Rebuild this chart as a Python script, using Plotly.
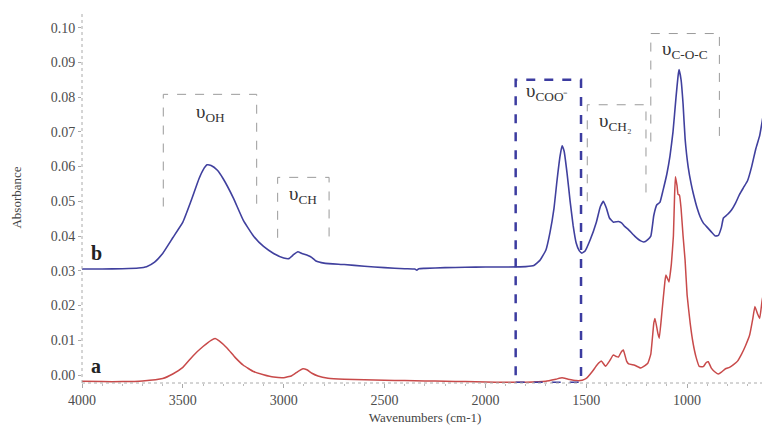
import plotly.graph_objects as go

# ---- data ----
wn_b = [4000, 3900, 3800, 3720, 3680, 3640, 3600, 3550, 3500, 3460, 3420, 3400, 3380, 3360, 3330,
        3300, 3250, 3200, 3150, 3100, 3050, 3000, 2975, 2950, 2930, 2910, 2880, 2860, 2840, 2800,
        2700, 2600, 2500, 2400, 2350, 2340, 2330, 2300, 2200, 2100, 2000, 1900, 1800, 1760, 1730,
        1700, 1680, 1660, 1645, 1630, 1620, 1610, 1595, 1580, 1565, 1550, 1535, 1522, 1505, 1480,
        1450, 1430, 1415, 1400, 1385, 1365, 1340, 1325, 1310, 1290, 1260, 1230, 1215, 1195, 1180,
        1165, 1150, 1135, 1120, 1100, 1085, 1070, 1055, 1045, 1040, 1030, 1020, 1010, 995, 980,
        970, 950, 935, 920, 900, 880, 860, 845, 830, 820, 800, 780, 760, 740, 720, 700, 680, 660,
        640, 625, 610, 600]
abs_b = [0.0305, 0.0305, 0.0306, 0.0308, 0.0312, 0.0325, 0.0350, 0.0395, 0.0440, 0.0500, 0.0565,
         0.0590, 0.0605, 0.0603, 0.0590, 0.0565, 0.0510, 0.0445, 0.0400, 0.0370, 0.0350, 0.0337,
         0.0335, 0.0347, 0.0355, 0.0350, 0.0344, 0.0338, 0.0328, 0.0322, 0.0318, 0.0313, 0.0309,
         0.0306, 0.0305, 0.0302, 0.0306, 0.0307, 0.0309, 0.0310, 0.0311, 0.0311, 0.0312, 0.0315,
         0.0330, 0.0360, 0.0410, 0.0480, 0.0560, 0.0630, 0.0660, 0.0645, 0.0580, 0.0500, 0.0430,
         0.0380, 0.0358, 0.0351, 0.0358, 0.0390, 0.0440, 0.0485, 0.0500, 0.0480, 0.0452, 0.0440,
         0.0442, 0.0438, 0.0428, 0.0418, 0.0400, 0.0386, 0.0383, 0.0390, 0.0400, 0.0460, 0.0490,
         0.0497, 0.0530, 0.0580, 0.0630, 0.0700, 0.0800, 0.0860, 0.0879, 0.0850, 0.0780, 0.0680,
         0.0600, 0.0550, 0.0524, 0.0480, 0.0455, 0.0438, 0.0425, 0.0412, 0.0400, 0.0402, 0.0425,
         0.0452, 0.0462, 0.0475, 0.0495, 0.0520, 0.0540, 0.0560, 0.0600, 0.0650, 0.0690, 0.0740,
         0.0790, 0.0800]

wn_a = [4000, 3900, 3800, 3700, 3600, 3550, 3500, 3450, 3400, 3360, 3340, 3320, 3280, 3240, 3200,
        3150, 3100, 3050, 3000, 2960, 2930, 2905, 2885, 2860, 2830, 2780, 2700, 2600, 2500, 2400,
        2300, 2200, 2100, 2000, 1900, 1800, 1700, 1650, 1620, 1590, 1550, 1520, 1500, 1470, 1445,
        1424, 1405, 1385, 1366, 1350, 1340, 1325, 1316, 1300, 1290, 1260, 1230, 1215, 1195, 1180,
        1165, 1159, 1145, 1138, 1125, 1110, 1105, 1090, 1078, 1068, 1062, 1058, 1050, 1045, 1038,
        1030, 1020, 1010, 1000, 985, 970, 955, 940, 920, 905, 895, 880, 860, 845, 830, 810, 790,
        770, 750, 730, 710, 690, 675, 664, 650, 640, 628, 614, 605, 600]
abs_a = [-0.0018, -0.0019, -0.0019, -0.0017, -0.0010, 0.0003, 0.0022, 0.0055, 0.0082, 0.0100,
         0.0105, 0.0098, 0.0077, 0.0050, 0.0028, 0.0010, 0.0001, -0.0006, -0.0008, -0.0002,
         0.0010, 0.0018, 0.0015, 0.0005, -0.0003, -0.0009, -0.0012, -0.0014, -0.0015, -0.0016,
         -0.0017, -0.0018, -0.0019, -0.0020, -0.0021, -0.0021, -0.0018, -0.0012, -0.0008,
         -0.0012, -0.0016, -0.0015, -0.0010, 0.0010, 0.0030, 0.0040, 0.0025, 0.0040, 0.0058,
         0.0053, 0.0052, 0.0068, 0.0072, 0.0040, 0.0032, 0.0028, 0.0020, 0.0025, 0.0034, 0.0060,
         0.0150, 0.0163, 0.0120, 0.0106, 0.0180, 0.0270, 0.0288, 0.0268, 0.0320, 0.0400, 0.0520,
         0.0571, 0.0545, 0.0520, 0.0518, 0.0480, 0.0400, 0.0330, 0.0230, 0.0150, 0.0090, 0.0050,
         0.0025, 0.0024, 0.0036, 0.0038, 0.0020, 0.0008, 0.0003, 0.0008, 0.0018, 0.0022, 0.0030,
         0.0040, 0.0060, 0.0085, 0.0115, 0.0160, 0.0197, 0.0175, 0.0163, 0.0215, 0.0250, 0.0240,
         0.0245]

x_ticks = [4000, 3500, 3000, 2500, 2000, 1500, 1000]
y_ticks = [0.00, 0.01, 0.02, 0.03, 0.04, 0.05, 0.06, 0.07, 0.08, 0.09, 0.10]
y_tick_text = ["0.00", "0.01", "0.02", "0.03", "0.04", "0.05", "0.06", "0.07", "0.08", "0.09", "0.10"]

# band boxes: (label, x_left, x_right, y_top, y_bottom, label_x, label_y)
bands = [
    ("υ<sub>OH</sub>", 3597, 3134, 0.0808, 0.0485, 3365, 0.0755),
    ("υ<sub>CH</sub>", 3030, 2775, 0.0569, 0.0395, 2904, 0.0519),
    ("υ<sub>CH₂</sub>", 1495, 1204, 0.0778, 0.0500, 1355, 0.0728),
    ("υ<sub>C-O-C</sub>", 1180, 840, 0.0983, 0.0672, 1012, 0.0935),
]
coo_box = ("υ<sub>COO⁻</sub>", 1850, 1526, 0.0850, -0.0022, 1690, 0.0815)

SERIF = "Liberation Serif"
BLUE = "#40409e"
RED = "#c84a4a"

fig = go.Figure()
fig.add_trace(go.Scatter(x=wn_b, y=abs_b, mode="lines", name="b",
                         line=dict(color=BLUE, width=1.6, shape="spline", smoothing=0.4),
                         showlegend=False))
fig.add_trace(go.Scatter(x=wn_a, y=abs_a, mode="lines", name="a",
                         line=dict(color=RED, width=1.5, shape="spline", smoothing=0.3),
                         showlegend=False))

shapes = []
annotations = []
for lab, x0, x1, yt, yb, lx, ly in bands:
    shapes.append(dict(type="path", xref="x", yref="y",
                       path=f"M {x0},{yb} L {x0},{yt} L {x1},{yt} L {x1},{yb}",
                       line=dict(color="#9a9a9a", width=1, dash="dash")))
    annotations.append(dict(x=lx, y=ly, xref="x", yref="y", text=lab, showarrow=False,
                            font=dict(family=SERIF, size=19, color="#333333")))
lab, x0, x1, yt, yb, lx, ly = coo_box
shapes.append(dict(type="rect", xref="x", yref="y", x0=x0, x1=x1, y0=yb, y1=yt,
                   line=dict(color="#3c3ca0", width=2.5, dash="dash")))
annotations.append(dict(x=lx, y=ly, xref="x", yref="y", text=lab, showarrow=False,
                        font=dict(family=SERIF, size=19, color="#333333")))

# dotted axis lines
shapes.append(dict(type="line", xref="paper", yref="paper", x0=0, x1=0, y0=0, y1=1,
                   line=dict(color="#aaaaaa", width=1, dash="dot")))
shapes.append(dict(type="line", xref="paper", yref="paper", x0=0, x1=1, y0=0, y1=0,
                   line=dict(color="#aaaaaa", width=1, dash="dot")))

annotations.append(dict(x=3930, y=0.0352, xref="x", yref="y", text="<b>b</b>", showarrow=False,
                        font=dict(family=SERIF, size=20, color="#222222")))
annotations.append(dict(x=3930, y=0.0026, xref="x", yref="y", text="<b>a</b>", showarrow=False,
                        font=dict(family=SERIF, size=20, color="#222222")))

# the page body has an 8px default margin, so the figure is sized to fit inside it
fig.update_layout(
    width=762, height=421,
    margin=dict(l=74, r=2, t=4, b=46),
    paper_bgcolor="white", plot_bgcolor="white",
    font=dict(family=SERIF, size=13, color="#4d4d4d"),
    shapes=shapes, annotations=annotations,
    xaxis=dict(range=[4000, 599], tickvals=x_ticks, ticks="outside", ticklen=4,
               tickcolor="#aaaaaa", showgrid=False, zeroline=False, showline=False,
               automargin=False,
               minor=dict(dtick=100, ticks="outside", ticklen=2, tickcolor="#bbbbbb"),
               title=dict(text="Wavenumbers (cm-1)", font=dict(family=SERIF, size=13, color="#444444"),
                          standoff=6),
               tickfont=dict(family=SERIF, size=14, color="#4d4d4d")),
    yaxis=dict(range=[-0.0023, 0.1045], tickvals=y_ticks, ticktext=y_tick_text,
               ticks="outside", ticklen=3, tickcolor="#aaaaaa", showgrid=False,
               zeroline=False, showline=False, automargin=False,
               title=dict(text="Absorbance", font=dict(family=SERIF, size=13, color="#444444"),
                          standoff=26),
               tickfont=dict(family=SERIF, size=14, color="#4d4d4d")),
)

fig.write_html("out.html")
